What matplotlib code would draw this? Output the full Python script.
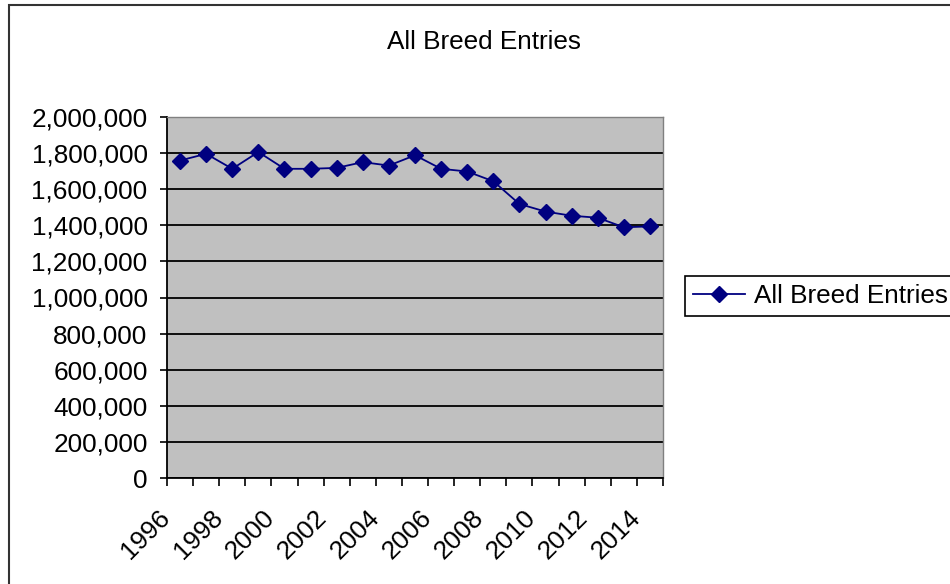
import matplotlib.pyplot as plt
from matplotlib.patches import Rectangle
from matplotlib.ticker import FuncFormatter, FixedLocator
from matplotlib.transforms import ScaledTranslation

plt.rcParams['font.family'] = ['Liberation Sans', 'DejaVu Sans']

# datos
years = [1996, 1997, 1998, 1999, 2000, 2001, 2002, 2003, 2004, 2005,
         2006, 2007, 2008, 2009, 2010, 2011, 2012, 2013, 2014]
entries = [1759000, 1796000, 1713000, 1806000, 1713000, 1713000, 1718000,
           1750000, 1731000, 1788000, 1713000, 1698000, 1644000, 1518000,
           1476000, 1453000, 1442000, 1389000, 1394000]
serie = 'All Breed Entries'

W, H = 950, 584
fs = 18.8
fig = plt.figure(figsize=(W / 100, H / 100), dpi=100)
ax = fig.add_axes([167 / W, 1 - 478 / H, (663 - 167) / W, (478 - 117) / H])
ax.set_facecolor('#C0C0C0')

pos = list(range(len(years)))
ax.plot(pos, entries, color='#000080', lw=1.3, marker='D', ms=8.5,
        label=serie, zorder=3)

ax.set_xlim(-0.5, len(years) - 0.5)
ax.set_ylim(0, 2000000)
ax.set_yticks(range(0, 2000001, 200000))
ax.yaxis.set_major_formatter(FuncFormatter(lambda v, p: '{:,.0f}'.format(v)))
ax.grid(axis='y', color='black', lw=1.3)
ax.set_axisbelow(True)

# etiquetas cada dos anios, marcas en los limites de cada categoria
ax.set_xticks(pos[::2])
ax.set_xticklabels([str(y) for y in years[::2]], rotation=45, ha='right',
                   rotation_mode='anchor')
ax.xaxis.set_minor_locator(FixedLocator([p - 0.5 for p in pos] + [len(pos) - 0.5]))
ax.tick_params(axis='x', which='major', length=0, pad=20, labelsize=fs)
ax.tick_params(axis='x', which='minor', length=6, width=1.2, direction='out')
ax.tick_params(axis='y', length=5, width=1.2, pad=9, labelsize=fs)
desplaza = ScaledTranslation(-0.22, 0, fig.dpi_scale_trans)
for lab in ax.get_xticklabels():
    lab.set_transform(lab.get_transform() + desplaza)

for s in ['left', 'bottom']:
    ax.spines[s].set_color('black')
    ax.spines[s].set_linewidth(1.3)
for s in ['top', 'right']:
    ax.spines[s].set_color('#808080')
    ax.spines[s].set_linewidth(1.0)

fig.text(484 / W, 1 - 42 / H, serie, ha='center', va='center', fontsize=fs)

leg = fig.legend(loc='upper left', bbox_to_anchor=(685 / W, 1 - 276 / H),
                 bbox_transform=fig.transFigure, borderaxespad=0,
                 fancybox=False, edgecolor='black', framealpha=1,
                 fontsize=fs, handlelength=2.0, handletextpad=0.35,
                 borderpad=0.3)
leg.get_frame().set_linewidth(1.2)

fig.patches.append(Rectangle((8.5 / W, -0.1), 1.2, 1.1 - 5 / H,
                             transform=fig.transFigure, fill=False,
                             edgecolor='#333333', lw=1.5))

plt.savefig('out.png', dpi=100)
